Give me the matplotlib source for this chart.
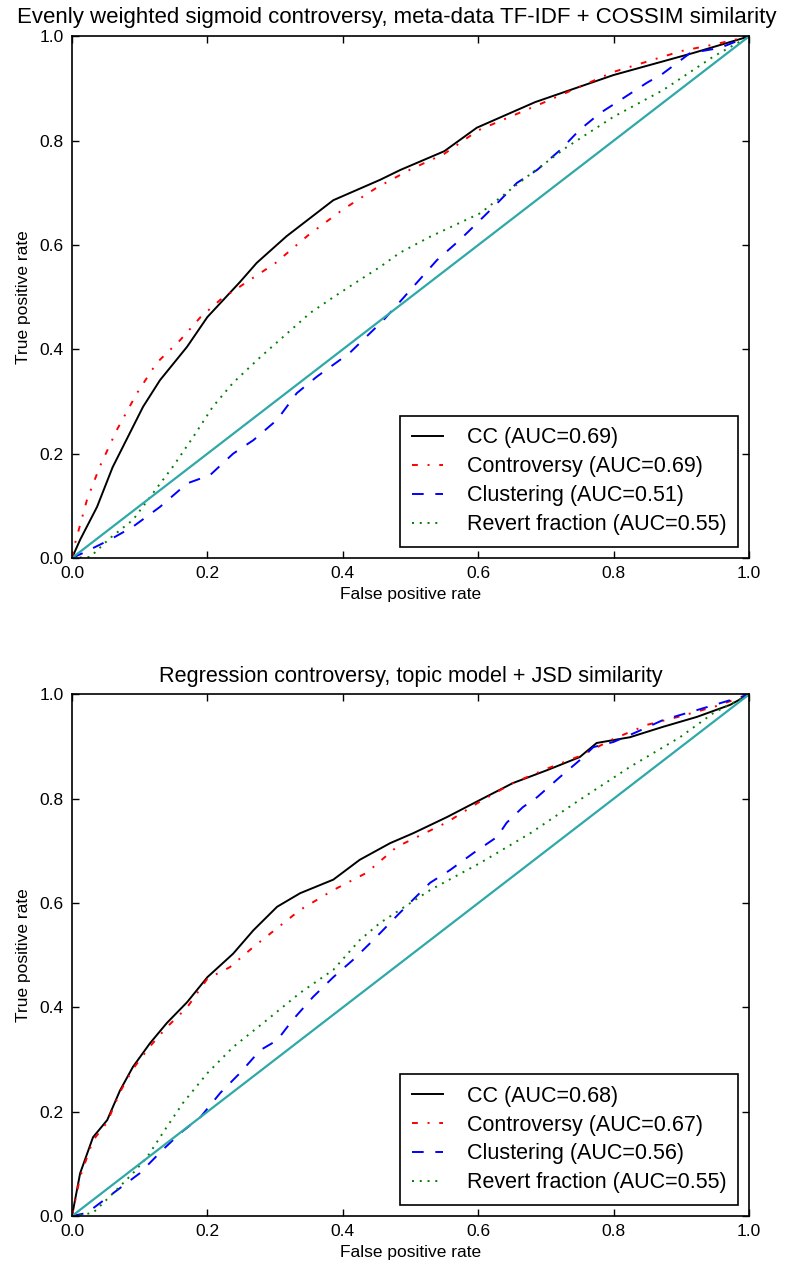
import matplotlib
matplotlib.use('Agg')
import matplotlib.pyplot as plt

plt.rcParams['font.family'] = ['Liberation Sans', 'DejaVu Sans']

# ---- top panel: evenly weighted sigmoid, TF-IDF + COSSIM ----
top_title = 'Evenly weighted sigmoid controversy, meta-data TF-IDF + COSSIM similarity'
top_labels = ['CC (AUC=0.69)', 'Controversy (AUC=0.69)',
              'Clustering (AUC=0.51)', 'Revert fraction (AUC=0.55)']

top_cc_x = [0, 0.012, 0.037, 0.06, 0.105, 0.13, 0.17, 0.2, 0.248, 0.273, 0.317,
            0.386, 0.455, 0.485, 0.55, 0.598, 0.684, 0.8, 0.917, 1.0]
top_cc_y = [0, 0.035, 0.098, 0.174, 0.29, 0.341, 0.405, 0.462, 0.529, 0.566, 0.617,
            0.686, 0.725, 0.744, 0.78, 0.825, 0.874, 0.926, 0.968, 1.0]

top_con_x = [0, 0.003, 0.022, 0.041, 0.066, 0.096, 0.125, 0.16, 0.19, 0.219, 0.258,
             0.3, 0.35, 0.4, 0.45, 0.5, 0.55, 0.6, 0.7, 0.8, 0.9, 0.95, 1.0]
top_con_y = [0, 0.021, 0.111, 0.175, 0.245, 0.316, 0.374, 0.418, 0.462, 0.495, 0.529,
             0.565, 0.62, 0.668, 0.71, 0.745, 0.775, 0.82, 0.875, 0.932, 0.972, 0.985, 1.0]

top_clu_x = [0, 0.017, 0.056, 0.09, 0.13, 0.17, 0.204, 0.238, 0.268, 0.303, 0.332,
             0.362, 0.41, 0.46, 0.489, 0.504, 0.539, 0.573, 0.603, 0.628, 0.657,
             0.687, 0.721, 0.75, 0.78, 0.81, 0.849, 0.873, 0.913, 0.957, 1.0]
top_clu_y = [0, 0.01, 0.035, 0.06, 0.098, 0.143, 0.159, 0.2, 0.226, 0.265, 0.316,
             0.348, 0.393, 0.456, 0.498, 0.52, 0.571, 0.61, 0.648, 0.68, 0.719,
             0.744, 0.782, 0.821, 0.853, 0.878, 0.911, 0.929, 0.968, 0.978, 1.0]

top_rev_x = [0, 0.027, 0.056, 0.09, 0.12, 0.149, 0.179, 0.208, 0.238, 0.278, 0.312,
             0.352, 0.386, 0.425, 0.455, 0.484, 0.529, 0.603, 0.672, 0.731, 0.8,
             0.873, 0.947, 1.0]
top_rev_y = [0, 0.002, 0.038, 0.073, 0.125, 0.175, 0.232, 0.29, 0.336, 0.385, 0.424,
             0.47, 0.5, 0.533, 0.558, 0.585, 0.616, 0.661, 0.731, 0.788, 0.846,
             0.897, 0.961, 1.0]

# ---- bottom panel: regression, topic model + JSD ----
bot_title = 'Regression controversy, topic model + JSD similarity'
bot_labels = ['CC (AUC=0.68)', 'Controversy (AUC=0.67)',
              'Clustering (AUC=0.56)', 'Revert fraction (AUC=0.55)']

bot_cc_x = [0, 0.012, 0.031, 0.052, 0.071, 0.09, 0.115, 0.14, 0.17, 0.2, 0.238,
            0.268, 0.303, 0.337, 0.386, 0.425, 0.47, 0.504, 0.554, 0.603, 0.651,
            0.702, 0.75, 0.775, 0.824, 0.873, 0.923, 0.972, 1.0]
bot_cc_y = [0, 0.082, 0.151, 0.184, 0.241, 0.286, 0.331, 0.37, 0.41, 0.458, 0.503,
            0.548, 0.593, 0.619, 0.645, 0.683, 0.715, 0.734, 0.765, 0.798, 0.83,
            0.855, 0.88, 0.907, 0.918, 0.938, 0.957, 0.98, 1.0]

bot_con_x = [0, 0.012, 0.031, 0.052, 0.071, 0.09, 0.115, 0.14, 0.17, 0.2, 0.233,
             0.268, 0.337, 0.386, 0.435, 0.48, 0.554, 0.603, 0.651, 0.702, 0.75,
             0.8, 0.85, 0.898, 0.95, 1.0]
bot_con_y = [0, 0.075, 0.145, 0.18, 0.238, 0.282, 0.325, 0.362, 0.40, 0.455, 0.477,
             0.516, 0.587, 0.625, 0.658, 0.708, 0.755, 0.795, 0.83, 0.858, 0.882,
             0.915, 0.942, 0.958, 0.977, 1.0]

bot_clu_x = [0, 0.022, 0.061, 0.1, 0.134, 0.16, 0.19, 0.219, 0.248, 0.278, 0.303,
             0.326, 0.356, 0.386, 0.415, 0.445, 0.484, 0.529, 0.558, 0.593, 0.628,
             0.642, 0.666, 0.687, 0.721, 0.75, 0.77, 0.8, 0.834, 0.873, 0.923,
             0.972, 1.0]
bot_clu_y = [0, 0.006, 0.044, 0.082, 0.127, 0.159, 0.19, 0.236, 0.274, 0.318, 0.337,
             0.376, 0.42, 0.458, 0.491, 0.529, 0.581, 0.639, 0.663, 0.696, 0.727,
             0.754, 0.784, 0.803, 0.842, 0.874, 0.899, 0.909, 0.928, 0.951, 0.97,
             0.989, 1.0]

bot_rev_x = [0, 0.031, 0.061, 0.09, 0.111, 0.134, 0.164, 0.2, 0.238, 0.288, 0.337,
             0.386, 0.425, 0.455, 0.529, 0.603, 0.677, 0.75, 0.824, 0.898, 0.947, 1.0]
bot_rev_y = [0, 0.006, 0.044, 0.082, 0.113, 0.159, 0.217, 0.274, 0.324, 0.376, 0.428,
             0.472, 0.529, 0.562, 0.625, 0.677, 0.734, 0.798, 0.861, 0.918, 0.964, 1.0]

diag = [0, 1]
ticks = [0.0, 0.2, 0.4, 0.6, 0.8, 1.0]


def draw_roc(ax, title, labels, cc, con, clu, rev, title_pad, title_size, title_x):
    ax.plot(cc[0], cc[1], color='black', lw=1.4, label=labels[0])
    ax.plot(con[0], con[1], color='red', lw=1.4, dashes=(3, 5, 1, 5), label=labels[1])
    ax.plot(clu[0], clu[1], color='blue', lw=1.4, dashes=(6, 6), label=labels[2])
    ax.plot(rev[0], rev[1], color='green', lw=1.4, dashes=(1, 3), label=labels[3])
    ax.plot(diag, diag, color='#2fa8a8', lw=1.6)
    ax.set_xlim(0, 1)
    ax.set_ylim(0, 1)
    ax.set_xticks(ticks)
    ax.set_yticks(ticks)
    ax.set_xticklabels(['%.1f' % t for t in ticks])
    ax.set_yticklabels(['%.1f' % t for t in ticks])
    ax.tick_params(direction='in', length=5, width=1, top=True, right=True,
                   labelsize=12.5, pad=6)
    for s in ax.spines.values():
        s.set_linewidth(1.2)
    ax.set_title(title, fontsize=title_size, pad=title_pad, x=title_x)
    ax.set_xlabel('False positive rate', fontsize=12.5, labelpad=4)
    ax.set_ylabel('True positive rate', fontsize=12.5, labelpad=6)
    leg = ax.legend(loc='lower right', fontsize=15.5, handlelength=1.45,
                    handletextpad=1.1, labelspacing=0.37, borderpad=0.55,
                    borderaxespad=0.5, fancybox=False, framealpha=1)
    leg.get_frame().set_edgecolor('black')
    leg.get_frame().set_linewidth(1.2)


fig = plt.figure(figsize=(7.86, 12.65), dpi=100)
ax1 = fig.add_axes([0.0916, 0.5589, 0.8613, 0.4123])
ax2 = fig.add_axes([0.0916, 0.0387, 0.8613, 0.4123])

draw_roc(ax1, top_title, top_labels, (top_cc_x, top_cc_y), (top_con_x, top_con_y),
         (top_clu_x, top_clu_y), (top_rev_x, top_rev_y), 9.5, 16, 0.479)
draw_roc(ax2, bot_title, bot_labels, (bot_cc_x, bot_cc_y), (bot_con_x, bot_con_y),
         (bot_clu_x, bot_clu_y), (bot_rev_x, bot_rev_y), 9.3, 15.6, 0.5)

fig.savefig('out.png', dpi=100)
